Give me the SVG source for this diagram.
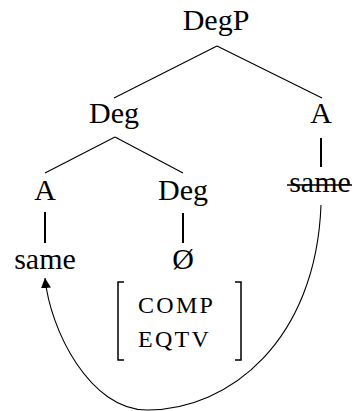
<svg xmlns="http://www.w3.org/2000/svg" width="355" height="411" viewBox="0 0 355 411">
<defs>
<style>
text{font-family:"Liberation Serif","Times New Roman",serif;font-size:30px;fill:#000;text-anchor:middle}
.sc{font-size:24px;text-anchor:start;letter-spacing:2.3px}
.e{stroke:#000;stroke-width:1.1;fill:none}
.v{stroke:#000;stroke-width:2;fill:none}
.b{stroke:#000;stroke-width:1.5;fill:none}
</style>
<marker id="ah" viewBox="0 0 10 10" refX="10" refY="5" markerWidth="10" markerHeight="10" markerUnits="userSpaceOnUse" orient="auto">
<path d="M0,0 L10,5 L0,10 Z" fill="#000"/>
</marker>
</defs>
<g id="connectors">
<line class="e" x1="217" y1="46" x2="114" y2="98"/>
<line class="e" x1="217" y1="46" x2="322" y2="98"/>
<line class="e" x1="115" y1="137" x2="45" y2="173"/>
<line class="e" x1="115" y1="137" x2="183" y2="173"/>
<line class="v" x1="321" y1="138" x2="321" y2="167"/>
<line class="v" x1="45" y1="212" x2="45" y2="243"/>
<line class="v" x1="183" y1="213" x2="183" y2="243"/>
<path class="e" d="M321,205 C316,340 230,410 147,410 C90,410 50,330 45,278" marker-end="url(#ah)"/>
</g>
<g id="n-DegP"><text x="216" y="30">DegP</text></g>
<g id="n-Deg1"><text x="114" y="123">Deg</text></g>
<g id="n-A1"><text x="321" y="123">A</text></g>
<g id="n-A2"><text x="45" y="200">A</text></g>
<g id="n-Deg2"><text x="183" y="200">Deg</text></g>
<g id="n-same-struck"><text x="320" y="192">same</text><line x1="287" y1="185" x2="352" y2="185" stroke="#000" stroke-width="1.5"/></g>
<g id="n-same"><text x="45" y="269">same</text></g>
<g id="n-null"><text x="183" y="269">Ø</text></g>
<g id="n-features">
<path class="b" d="M124,282 L118,282 L118,360 L124,360"/>
<path class="b" d="M235,282 L241,282 L241,360 L235,360"/>
<text class="sc" x="138" y="313">COMP</text>
<text class="sc" x="138" y="347">EQTV</text>
</g>
</svg>
